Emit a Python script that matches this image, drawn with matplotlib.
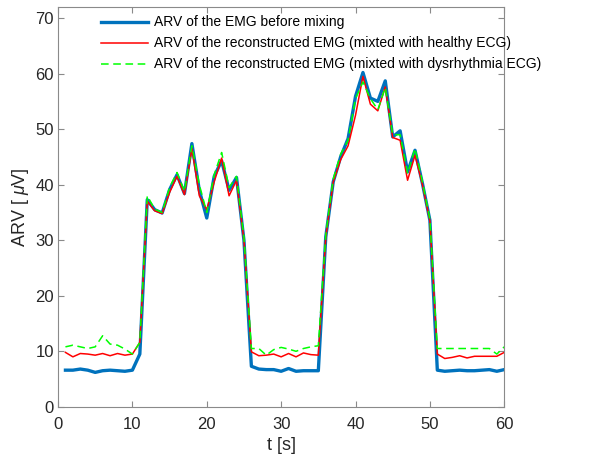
import numpy as np
import matplotlib
matplotlib.use('Agg')
import matplotlib.pyplot as plt

plt.rcParams['font.family'] = ['Liberation Sans', 'DejaVu Sans']
plt.rcParams['mathtext.fontset'] = 'custom'
plt.rcParams['mathtext.rm'] = 'Liberation Sans'
plt.rcParams['mathtext.it'] = 'Liberation Sans:italic'

# time axis, one value per second
t = np.arange(1, 61)

# ARV of the EMG before mixing
arv_emg = [6.6, 6.6, 6.8, 6.6, 6.2, 6.5, 6.6, 6.5, 6.4, 6.6,
           9.5, 37.3, 35.5, 34.9, 39.1, 41.8, 38.4, 47.4, 39.0, 34.0,
           41.5, 44.3, 39.0, 41.3, 30.0, 7.3, 6.8, 6.7, 6.7, 6.4,
           6.9, 6.4, 6.5, 6.5, 6.5, 30.6, 40.5, 45.0, 48.3, 55.9,
           60.2, 55.6, 55.0, 58.7, 48.6, 49.7, 42.3, 46.2, 40.2, 33.6,
           6.6, 6.4, 6.5, 6.6, 6.5, 6.5, 6.6, 6.7, 6.4, 6.7]

# reconstructed EMG, mixed with healthy ECG
arv_healthy = [9.8, 9.0, 9.6, 9.5, 9.3, 9.6, 9.2, 9.6, 9.3, 9.5,
               11.6, 37.0, 35.3, 34.8, 38.6, 41.5, 38.2, 46.5, 38.0, 35.5,
               40.5, 44.8, 38.0, 40.8, 30.0, 9.9, 9.2, 9.3, 9.5, 9.0,
               9.6, 9.0, 9.7, 9.4, 9.3, 30.5, 40.5, 44.5, 47.0, 52.5,
               59.5, 54.5, 53.3, 57.6, 48.5, 48.0, 40.8, 45.3, 40.0, 33.5,
               9.5, 8.7, 8.9, 9.2, 8.8, 9.1, 9.1, 9.1, 9.1, 9.8]

# reconstructed EMG, mixed with dysrhythmia ECG
arv_dysr = [10.8, 11.1, 10.8, 10.5, 10.8, 12.8, 11.3, 11.1, 10.4, 9.5,
            11.6, 38.0, 35.6, 35.0, 39.5, 42.2, 38.8, 47.0, 40.0, 35.0,
            41.8, 45.8, 39.5, 41.5, 30.5, 10.5, 10.5, 9.3, 10.3, 10.7,
            10.4, 10.0, 10.5, 10.8, 11.0, 31.0, 41.0, 45.5, 48.0, 55.5,
            58.5, 55.5, 53.5, 57.5, 49.0, 49.0, 42.0, 46.5, 40.5, 33.8,
            10.5, 10.5, 10.5, 10.5, 10.5, 10.5, 10.5, 10.5, 9.5, 10.8]

fig = plt.figure(figsize=(5.95, 4.66), dpi=100)
ax = fig.add_axes([0.0975, 0.127, 0.75, 0.858])

ax.plot(t, arv_emg, color=(0, 0.447, 0.741), lw=2.4, label='ARV of the EMG before mixing')
ax.plot(t, arv_healthy, color='r', lw=1.1,
        label='ARV of the reconstructed EMG (mixted with healthy ECG)')
ax.plot(t, arv_dysr, color=(0, 1, 0), lw=1.1, ls=(0, (5, 3)),
        label='ARV of the reconstructed EMG (mixted with dysrhythmia ECG)')

ax.set_xlim(0, 60)
ax.set_ylim(0, 72)
ax.set_xticks(np.arange(0, 61, 10))
ax.set_yticks(np.arange(0, 71, 10))
ax.tick_params(direction='in', length=4, labelsize=12, colors='#262626',
               top=True, right=True)
ax.tick_params(axis='x', pad=7)
ax.tick_params(axis='y', pad=3)
for s in ax.spines.values():
    s.set_color('#8a8a8a')
ax.tick_params(color='#8a8a8a')

ax.set_xlabel('t [s]', fontsize=13, color='#262626', labelpad=4)
ax.set_ylabel('ARV [ $\\mu$V]', fontsize=13, color='#262626', labelpad=3)

leg = ax.legend(loc='upper left', frameon=False, fontsize=10,
                bbox_to_anchor=(0.068, 1.01), handlelength=3.4,
                handletextpad=0.4, labelspacing=0.5, borderaxespad=0.5)

fig.savefig('out.png', dpi=100)
